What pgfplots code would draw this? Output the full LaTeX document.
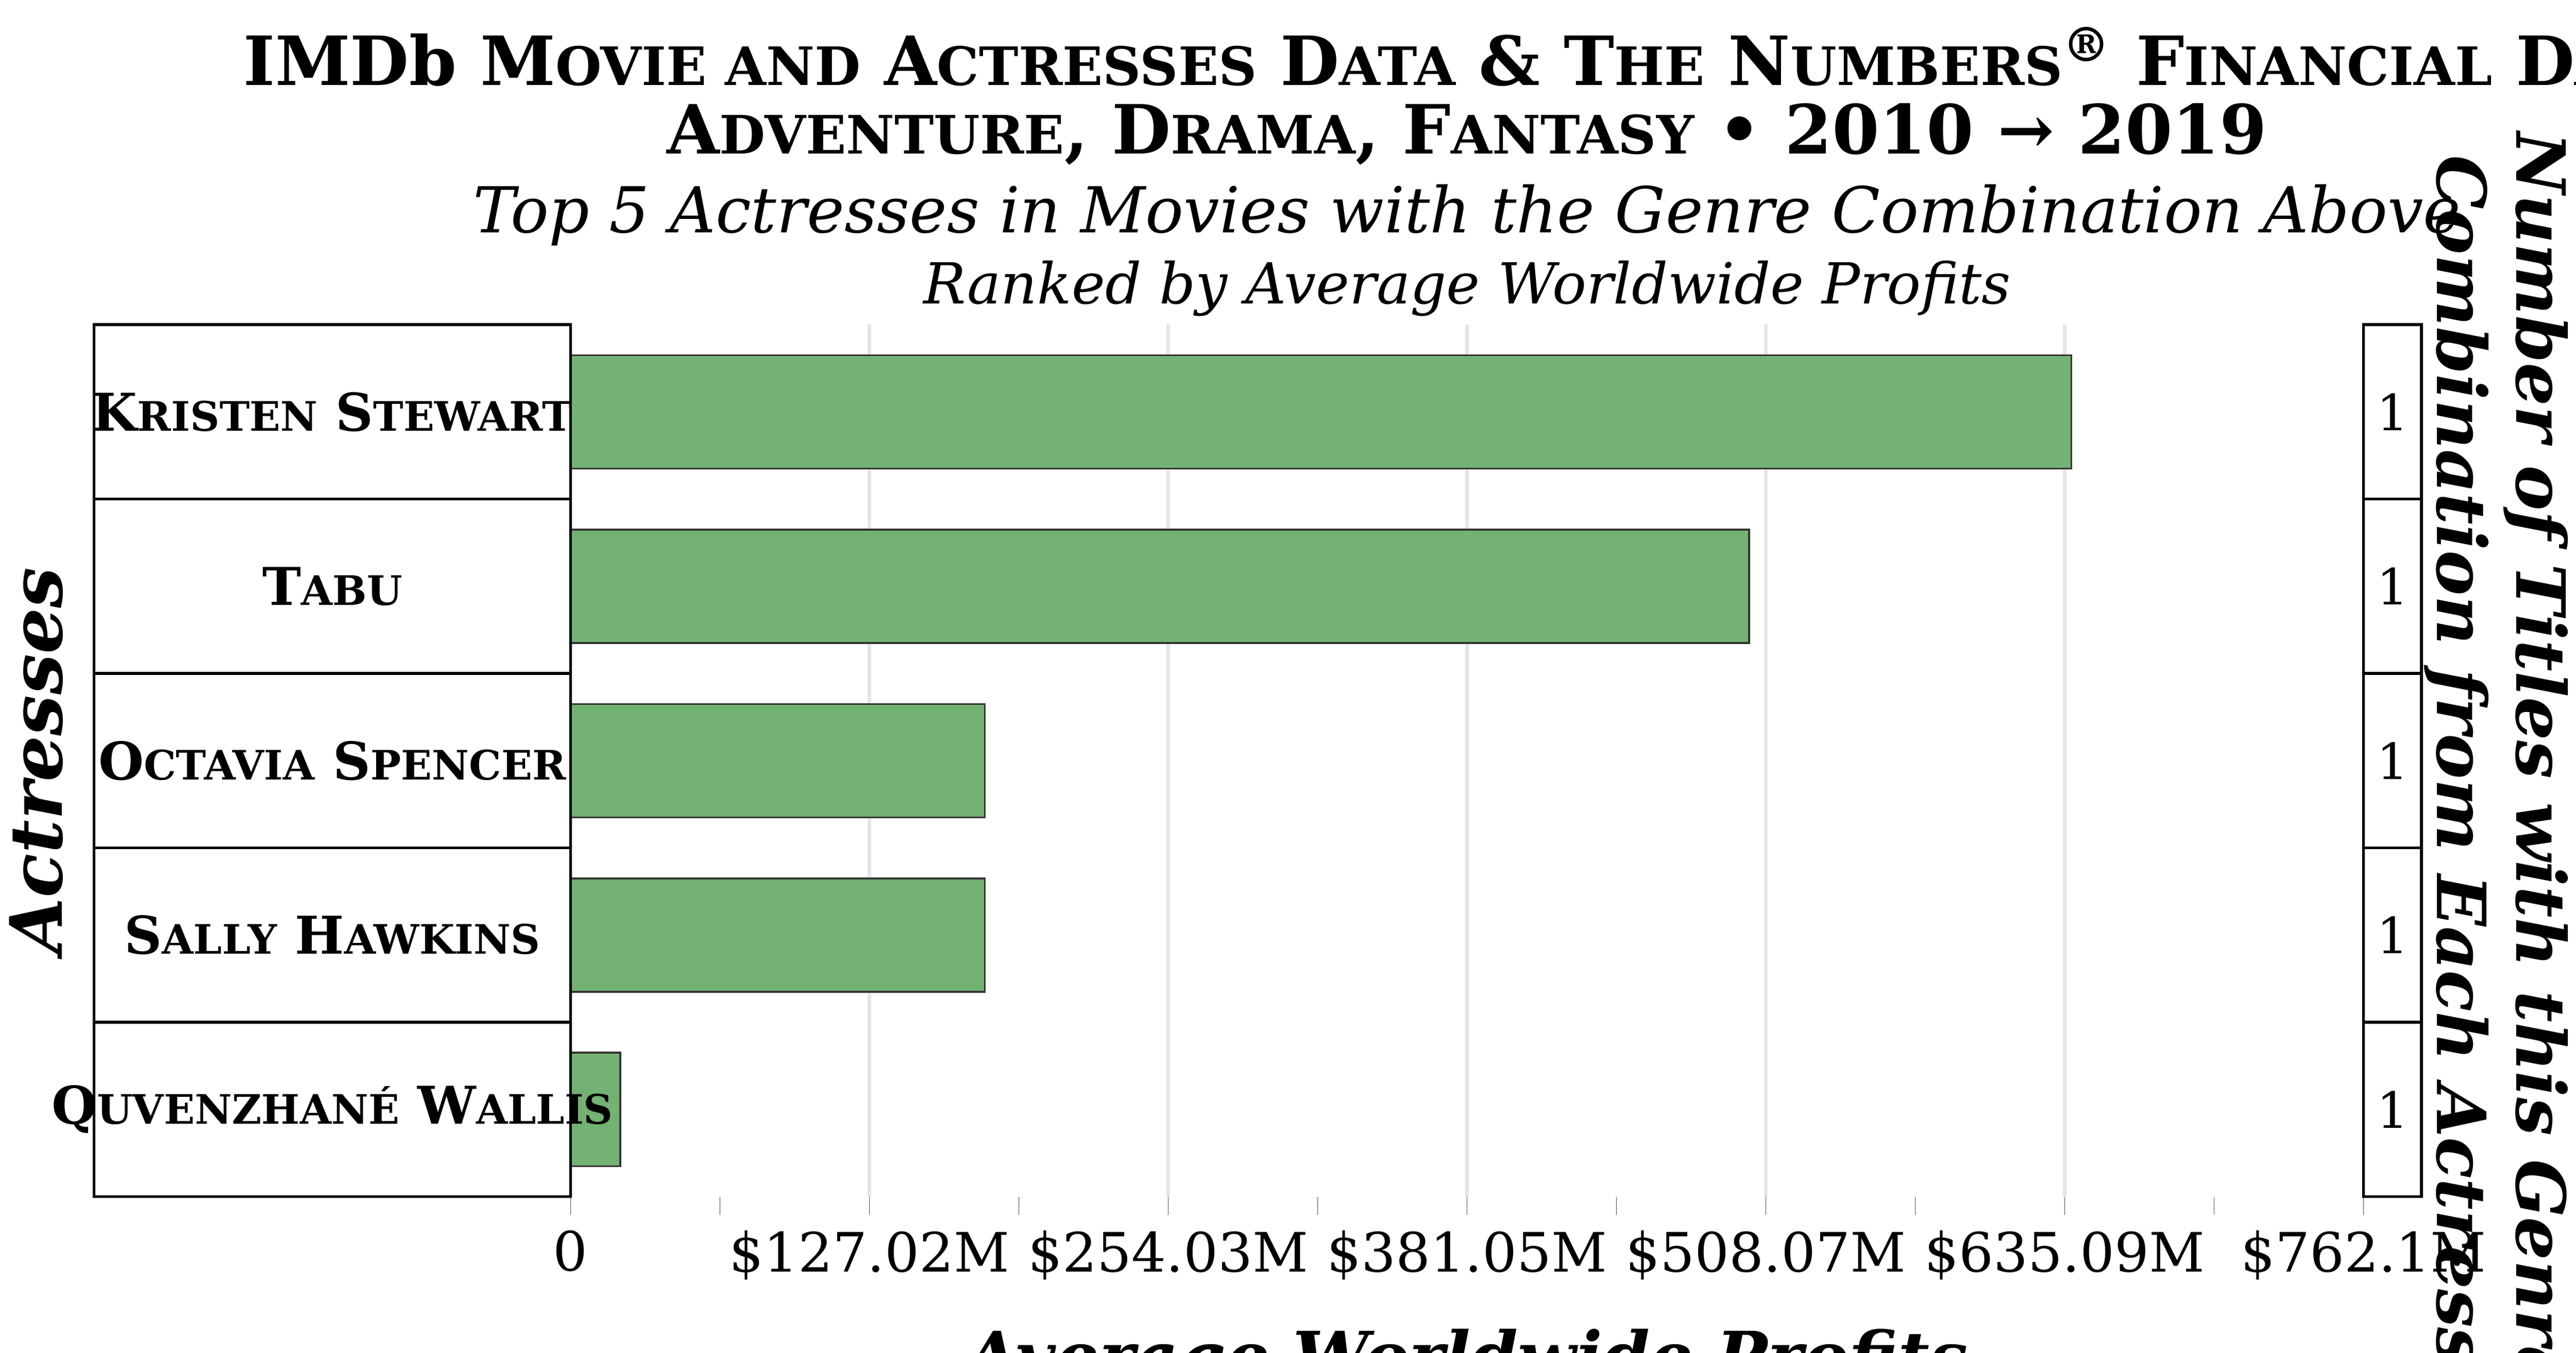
\documentclass[border=0pt]{standalone}
\usepackage{pgfplots}
\pgfplotsset{compat=1.18}
\usepackage{fontspec}
\setmainfont{DejaVu Serif}
\newcommand{\fsc}[2]{#1{\fontsize{0.78em}{1em}\selectfont #2}}
\begin{document}
\begin{tikzpicture}
\useasboundingbox (-4.43,-1.21) rectangle (15.57,9.29);
\begin{axis}[
  at={(0,0)}, anchor=south west,
  width=13.92cm, height=6.77cm, scale only axis,
  xmin=0, xmax=762.1, ymin=-0.5, ymax=4.5,
  axis line style={draw=none},
  xtick={0,127.02,254.03,381.05,508.07,635.09,762.1},
  xticklabels={0,\$127.02M,\$254.03M,\$381.05M,\$508.07M,\$635.09M,\$762.1M},
  minor xtick={63.51,190.52,317.54,444.56,571.58,698.6},
  xtick pos=bottom, xtick align=outside,
  major tick length=4pt, minor tick length=4pt,
  tick style={black!70},
  xmajorgrids, major grid style={black!10, line width=0.8pt},
  ytick=\empty,
  /pgf/number format/assume math mode=true,
  xticklabel style={font=\fontsize{12}{14}\selectfont},
  xlabel={\fontsize{15}{18}\selectfont\bfseries\itshape Average Worldwide Profits},
  xlabel style={yshift=-4pt},
  clip=false,
]
\addplot[xbar, bar width=0.65, fill=green!45!black!55!white, draw=black!80, line width=0.4pt]
  coordinates {(637.9,4) (501.0,3) (176.1,2) (176.1,1) (21.1,0)};
\coordinate (L0) at (axis cs:0,0);
\coordinate (L1) at (axis cs:0,1);
\coordinate (L2) at (axis cs:0,2);
\coordinate (L3) at (axis cs:0,3);
\coordinate (L4) at (axis cs:0,4);
\coordinate (R0) at (axis cs:762.1,0);
\coordinate (R1) at (axis cs:762.1,1);
\coordinate (R2) at (axis cs:762.1,2);
\coordinate (R3) at (axis cs:762.1,3);
\coordinate (R4) at (axis cs:762.1,4);
\coordinate (B0) at (axis cs:0,0.5);
\coordinate (B1) at (axis cs:0,1.5);
\coordinate (B2) at (axis cs:0,2.5);
\coordinate (B3) at (axis cs:0,3.5);
\end{axis}
\draw[black, line width=0.6pt] (-3.7,0) rectangle (0,6.77);
\draw[black, line width=0.6pt] (13.92,0) rectangle (14.37,6.77);
\foreach \k in {0,1,2,3} {
  \draw[black, line width=0.6pt] ([xshift=-3.7cm]B\k) -- (B\k);
  \draw[black, line width=0.6pt] ([xshift=13.92cm]B\k) -- ([xshift=14.37cm]B\k);
}
\foreach \k in {0,...,4} {
  \node[font=\fontsize{11}{14}\selectfont] at ([xshift=0.225cm]R\k) {1};
}
\begin{scope}[font=\fontsize{11.5}{14}\selectfont\bfseries]
\node at ([xshift=-1.85cm]L4) {\fsc{K}{RISTEN} \fsc{S}{TEWART}};
\node at ([xshift=-1.85cm]L3) {\fsc{T}{ABU}};
\node at ([xshift=-1.85cm]L2) {\fsc{O}{CTAVIA} \fsc{S}{PENCER}};
\node at ([xshift=-1.85cm]L1) {\fsc{S}{ALLY} \fsc{H}{AWKINS}};
\node at ([xshift=-1.85cm]L0) {\fsc{Q}{UVENZHANÉ} \fsc{W}{ALLIS}};
\end{scope}
\node[rotate=90, font=\fontsize{16}{19}\selectfont\bfseries\itshape] at (-4.15,3.385) {Actresses};
\node[rotate=-90, align=center, font=\fontsize{15}{17.5}\selectfont\bfseries\itshape] at (14.95,3.385) {Number of Titles with this Genre\\Combination from Each Actress};
\node[font=\fontsize{15}{18}\selectfont\bfseries] at (6.96,8.85) {IMD\fsc{b M}{OVIE AND} \fsc{A}{CTRESSES} \fsc{D}{ATA} \& \fsc{T}{HE} \fsc{N}{UMBERS}\textsuperscript{®} \fsc{F}{INANCIAL} \fsc{D}{ATA}};
\node[font=\fontsize{15}{18}\selectfont\bfseries] at (6.96,8.25) {\fsc{A}{DVENTURE}, \fsc{D}{RAMA}, \fsc{F}{ANTASY} • 2010 → 2019};
\node[font=\fontsize{14}{17}\selectfont\itshape] at (6.96,7.62) {Top 5 Actresses in Movies with the Genre Combination Above};
\node[font=\fontsize{12.5}{15}\selectfont\itshape] at (6.96,7.05) {Ranked by Average Worldwide Profits};
\end{tikzpicture}
\end{document}
